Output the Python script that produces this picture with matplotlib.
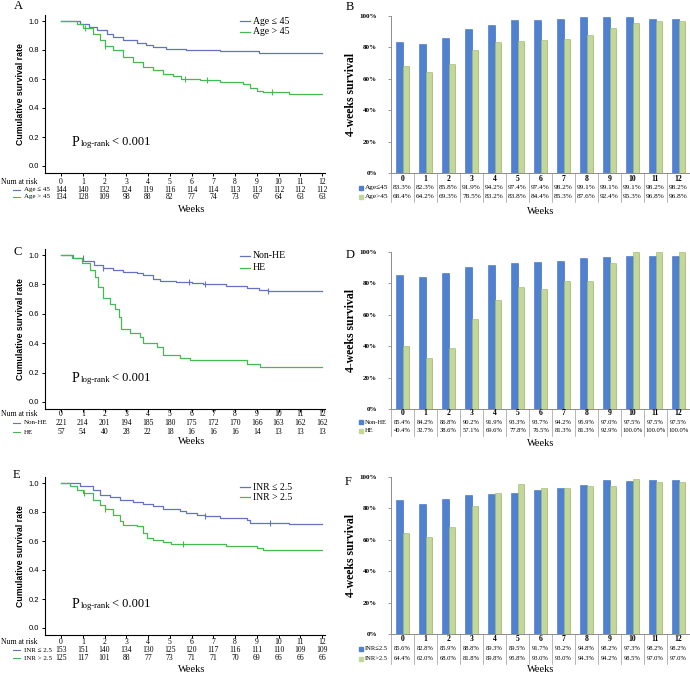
import numpy as np
import matplotlib
matplotlib.use('Agg')
import matplotlib.pyplot as plt
from matplotlib.lines import Line2D
from matplotlib.transforms import blended_transform_factory

SERIF = ['Liberation Serif', 'DejaVu Serif']
SANS = ['Liberation Sans', 'DejaVu Sans']

weeks = list(range(13))

# ---- KM curves (step times / survival) ----
age_le45_t = [0, 0.87, 1.3, 1.64, 2.1, 2.4, 2.86, 3.5, 3.9, 4.24, 4.85, 5.77, 7.3, 9.1, 12]
age_le45_s = [1.0, 0.977, 0.96, 0.936, 0.913, 0.89, 0.867, 0.848, 0.832, 0.82, 0.809, 0.798, 0.79, 0.782, 0.782]
age_le45_cens = []
age_gt45_t = [0, 0.72, 1.03, 1.49, 1.79, 2.0, 2.4, 2.86, 3.3, 3.78, 4.24, 4.7, 5.16, 5.5, 6.39, 7.3,
              8.38, 8.68, 8.99, 9.3, 10.5, 12]
age_gt45_s = [1.0, 0.98, 0.954, 0.913, 0.87, 0.83, 0.8, 0.75, 0.717, 0.683, 0.66, 0.632, 0.618, 0.602,
              0.59, 0.579, 0.568, 0.54, 0.52, 0.51, 0.499, 0.499]
age_gt45_cens = [1.1, 2.0, 5.7, 6.7, 9.7]

nonhe_t = [0, 0.57, 1.03, 1.5, 1.94, 2.4, 2.86, 3.5, 3.78, 4.24, 4.55, 5.3, 6.0, 6.54, 7.6, 8.53, 9.1,
           9.5, 10.4, 12]
nonhe_s = [1.0, 0.98, 0.96, 0.935, 0.914, 0.9, 0.886, 0.88, 0.864, 0.84, 0.825, 0.816, 0.81, 0.8,
           0.789, 0.775, 0.764, 0.757, 0.752, 0.752]
nonhe_cens = [1.0, 1.94, 5.9, 6.6, 9.5]
he_t = [0, 0.5, 0.95, 1.33, 1.56, 1.72, 1.94, 2.25, 2.48, 2.65, 2.76, 3.17, 3.63, 3.78, 4.4, 4.7,
        5.47, 5.93, 8.53, 9.14, 12]
he_s = [1.0, 0.977, 0.943, 0.898, 0.852, 0.784, 0.705, 0.67, 0.63, 0.58, 0.5, 0.466, 0.443, 0.398,
        0.375, 0.323, 0.302, 0.289, 0.257, 0.239, 0.239]
he_cens = []

inr_le_t = [0, 0.87, 1.49, 1.79, 2.25, 2.71, 3.33, 3.78, 4.24, 4.7, 5.47, 5.77, 6.23, 6.6, 7.3, 8.53,
            8.68, 10.5, 12]
inr_le_s = [1.0, 0.98, 0.954, 0.92, 0.903, 0.885, 0.867, 0.855, 0.839, 0.823, 0.805, 0.793, 0.782,
            0.77, 0.759, 0.747, 0.724, 0.717, 0.717]
inr_le_cens = [6.6, 9.6]
inr_gt_t = [0, 0.41, 0.72, 1.03, 1.49, 1.79, 2.0, 2.4, 2.71, 2.86, 3.48, 3.78, 3.94, 4.24, 4.7, 5.08,
            7.6, 8.99, 9.3, 12]
inr_gt_s = [1.0, 0.977, 0.954, 0.931, 0.885, 0.85, 0.82, 0.782, 0.736, 0.713, 0.701, 0.655, 0.62,
            0.609, 0.591, 0.582, 0.568, 0.552, 0.54, 0.54]
inr_gt_cens = [1.05, 2.0, 5.6]

# ---- numbers at risk ----
age_le45_risk = [144, 140, 132, 124, 119, 116, 114, 114, 113, 113, 112, 112, 112]
age_gt45_risk = [134, 128, 109, 98, 88, 82, 77, 74, 73, 67, 64, 63, 63]
nonhe_risk = [221, 214, 201, 194, 185, 180, 175, 172, 170, 166, 163, 162, 162]
he_risk = [57, 54, 40, 28, 22, 18, 16, 16, 16, 14, 13, 13, 13]
inr_le_risk = [153, 151, 140, 134, 130, 125, 120, 117, 116, 111, 110, 109, 109]
inr_gt_risk = [125, 117, 101, 88, 77, 73, 71, 71, 70, 69, 66, 66, 66]

# ---- 4-weeks survival (%) ----
age_le45_pct = [83.3, 82.3, 85.8, 91.9, 94.2, 97.4, 97.4, 98.2, 99.1, 99.1, 99.1, 98.2, 98.2]
age_gt45_pct = [68.4, 64.2, 69.3, 78.5, 83.2, 83.8, 84.4, 85.3, 87.6, 92.4, 95.3, 96.8, 96.8]
nonhe_pct = [85.4, 84.2, 86.8, 90.2, 91.9, 93.3, 93.7, 94.2, 95.9, 97.0, 97.5, 97.5, 97.5]
he_pct = [40.4, 32.7, 38.6, 57.1, 69.6, 77.8, 76.5, 81.3, 81.3, 92.9, 100.0, 100.0, 100.0]
inr_le_pct = [85.6, 82.8, 85.9, 88.8, 89.3, 89.5, 91.7, 93.2, 94.8, 98.2, 97.3, 98.2, 98.2]
inr_gt_pct = [64.4, 62.0, 68.0, 81.8, 89.8, 95.8, 93.0, 93.0, 94.3, 94.2, 98.5, 97.0, 97.0]

KM_BLUE = '#6373bf'
KM_GREEN = '#45b953'
BAR_BLUE = '#4f81d0'
BAR_GREEN = '#c3d69b'

W, H = 690, 674
fig = plt.figure(figsize=(W / 100, H / 100), dpi=100)


def rect(l, t, r, b):
    return [l / W, 1 - b / H, (r - l) / W, (b - t) / H]


def fx(x):
    return x / W


def fy(y):
    return 1 - y / H


def step_value(t, s, x):
    i = np.searchsorted(t, x, side='right') - 1
    return s[i]


def km_panel(top, bottom, y1, y0, curves, names, risks, leg_y, rows_y, weeks_y, letter, letter_xy, p_y):
    ax = fig.add_axes(rect(45, top, 325, bottom))
    per = y0 - y1
    ax.set_ylim((y0 - bottom) / per, (y0 - top) / per)
    ax.set_xlim(-16 / 21.75, 12 + 3 / 21.75)
    cols = [KM_BLUE, KM_GREEN]
    for (t, s, cens), c in zip(curves, cols):
        ax.step(t, s, where='post', color=c, lw=0.9)
        if cens:
            cy = [step_value(t, s, x) for x in cens]
            ax.plot(cens, cy, '|', color=c, ms=4.5, mew=0.8)
    for sp in ['top', 'right']:
        ax.spines[sp].set_visible(False)
    for sp in ['left', 'bottom']:
        ax.spines[sp].set_linewidth(0.8)
    ax.set_yticks([0, 0.2, 0.4, 0.6, 0.8, 1.0])
    ax.set_yticklabels(['0.0', '0.2', '0.4', '0.6', '0.8', '1.0'], family=SANS, fontsize=5.5)
    ax.set_xticks(weeks)
    ax.set_xticklabels([])
    ax.tick_params(axis='y', length=2.5, width=0.7, pad=1.5)
    ax.tick_params(axis='x', length=2, width=0.7)
    ax.set_ylabel('Cumulative survival rate', family=SANS, fontsize=6.3, fontweight='bold', labelpad=3)

    tr = blended_transform_factory(ax.transData, fig.transFigure)
    for w in weeks:
        ax.text(w, fy(rows_y[0]), str(w), transform=tr, ha='center', va='center', family=SERIF, fontsize=5.5)
        for r, vals in zip(rows_y[1:], risks):
            ax.text(w, fy(r), str(vals[w]), transform=tr, ha='center', va='center', family=SERIF, fontsize=5.5)
    fig.text(fx(1), fy(rows_y[0]), 'Num at risk', ha='left', va='center', family=SERIF, fontsize=5.5)
    for r, c, n in zip(rows_y[1:], cols, names):
        fig.add_artist(Line2D([fx(13), fx(20)], [fy(r), fy(r)], color=c, lw=0.8))
        fig.text(fx(24), fy(r), n, ha='left', va='center', family=SERIF, fontsize=5)
    ax.text(6, fy(weeks_y), 'Weeks', transform=tr, ha='center', va='center', family=SERIF, fontsize=7.5)

    # legend
    for ly, c, n in zip(leg_y, cols, names):
        fig.add_artist(Line2D([fx(240), fx(250)], [fy(ly), fy(ly)], color=c, lw=0.9))
        fig.text(fx(253), fy(ly), n, ha='left', va='center', family=SERIF, fontsize=7)

    fig.text(fx(letter_xy[0]), fy(letter_xy[1]), letter, ha='left', va='center', family=SERIF, fontsize=9)
    fig.text(fx(72), fy(p_y), 'P', ha='left', va='center', family=SERIF, fontsize=10)
    fig.text(fx(80.5), fy(p_y + 2), 'log-rank', ha='left', va='center', family=SERIF, fontsize=6.3)
    fig.text(fx(112), fy(p_y), '< 0.001', ha='left', va='center', family=SERIF, fontsize=9)
    return ax


def bar_panel(top, bottom, s1, s2, names, rows_y, sep_bottom, weeks_y, letter, letter_xy, vfs):
    ax = fig.add_axes(rect(391, top, 690, bottom))
    x = np.arange(len(weeks))
    w = 0.29
    a1 = np.array(s1)
    a2 = np.array(s2)
    ax.bar(x - w / 2 + 0.05, a1 - 1.0, w, color='#cfcfcf', zorder=1)
    ax.bar(x + w / 2 + 0.05, a2 - 1.0, w, color='#cfcfcf', zorder=1)
    ax.bar(x - w / 2, a1, w, color=BAR_BLUE, edgecolor='#3f6fbf', lw=0.4, zorder=2)
    ax.bar(x + w / 2, a2, w, color=BAR_GREEN, edgecolor='#9ab75f', lw=0.4, zorder=2)
    ax.set_xlim(-0.5, 12.5)
    ax.set_ylim(0, 100)
    for sp in ['top', 'right']:
        ax.spines[sp].set_visible(False)
    for sp in ['left', 'bottom']:
        ax.spines[sp].set_color('#8c8c8c')
        ax.spines[sp].set_linewidth(0.7)
    ax.set_yticks([0, 20, 40, 60, 80, 100])
    ax.set_yticklabels(['0%', '20%', '40%', '60%', '80%', '100%'], family=SERIF, fontsize=5,
                       fontweight='bold')
    ax.set_xticks([])
    ax.tick_params(axis='y', length=2, width=0.6, color='#8c8c8c', pad=8)
    ax.set_ylabel('4-weeks survival', family=SERIF, fontsize=8.5, fontweight='bold', labelpad=2)

    tr = blended_transform_factory(ax.transData, fig.transFigure)
    for b in np.arange(-0.5, 13, 1.0):
        ax.plot([b, b], [fy(bottom), fy(sep_bottom)], transform=tr, color='#9a9a9a', lw=0.5, clip_on=False)
    for i in weeks:
        ax.text(i, fy(rows_y[0]), str(i), transform=tr, ha='center', va='center', family=SERIF,
                fontsize=5.5, fontweight='bold')
        for r, vals in zip(rows_y[1:], [s1, s2]):
            ax.text(i, fy(r), f'{vals[i]:.1f}%', transform=tr, ha='center', va='center', family=SERIF,
                    fontsize=vfs)
    for r, c, n in zip(rows_y[1:], [BAR_BLUE, BAR_GREEN], names):
        fig.add_artist(Line2D([fx(361)], [fy(r)], marker='s', ms=3.2, color=c, ls='none'))
        fig.text(fx(364.5), fy(r), n, ha='left', va='center', family=SERIF, fontsize=vfs)
    ax.text(6, fy(weeks_y), 'Weeks', transform=tr, ha='center', va='center', family=SERIF, fontsize=7.5)
    fig.text(fx(letter_xy[0]), fy(letter_xy[1]), letter, ha='left', va='center', family=SERIF, fontsize=9)
    return ax


km_panel(15, 173, 21, 166,
         [(age_le45_t, age_le45_s, age_le45_cens), (age_gt45_t, age_gt45_s, age_gt45_cens)],
         ['Age ≤ 45', 'Age > 45'], [age_le45_risk, age_gt45_risk],
         [21, 32], [182, 189.5, 197], 209, 'A', (14, 6), 142)
km_panel(249, 409, 255, 402,
         [(nonhe_t, nonhe_s, nonhe_cens), (he_t, he_s, he_cens)],
         ['Non-HE', 'HE'], [nonhe_risk, he_risk],
         [256, 268], [414.5, 423, 432], 442, 'C', (14, 252), 378)
km_panel(477, 635, 483, 628,
         [(inr_le_t, inr_le_s, inr_le_cens), (inr_gt_t, inr_gt_s, inr_gt_cens)],
         ['INR ≤ 2.5', 'INR > 2.5'], [inr_le_risk, inr_gt_risk],
         [487, 497], [642, 650, 658], 670, 'E', (13, 475), 604)

bar_panel(16, 173, age_le45_pct, age_gt45_pct, ['Age≤45', 'Age>45'], [179, 187.5, 197], 202, 211,
          'B', (346, 7), 5.2)
bar_panel(252, 409, nonhe_pct, he_pct, ['Non-HE', 'HE'], [413, 422, 431], 436, 443,
          'D', (346, 255), 4.7)
bar_panel(477, 634, inr_le_pct, inr_gt_pct, ['INR≤2.5', 'INR>2.5'], [639, 649, 659], 664, 670,
          'F', (345, 482), 4.7)

fig.savefig('out.png', dpi=100)
